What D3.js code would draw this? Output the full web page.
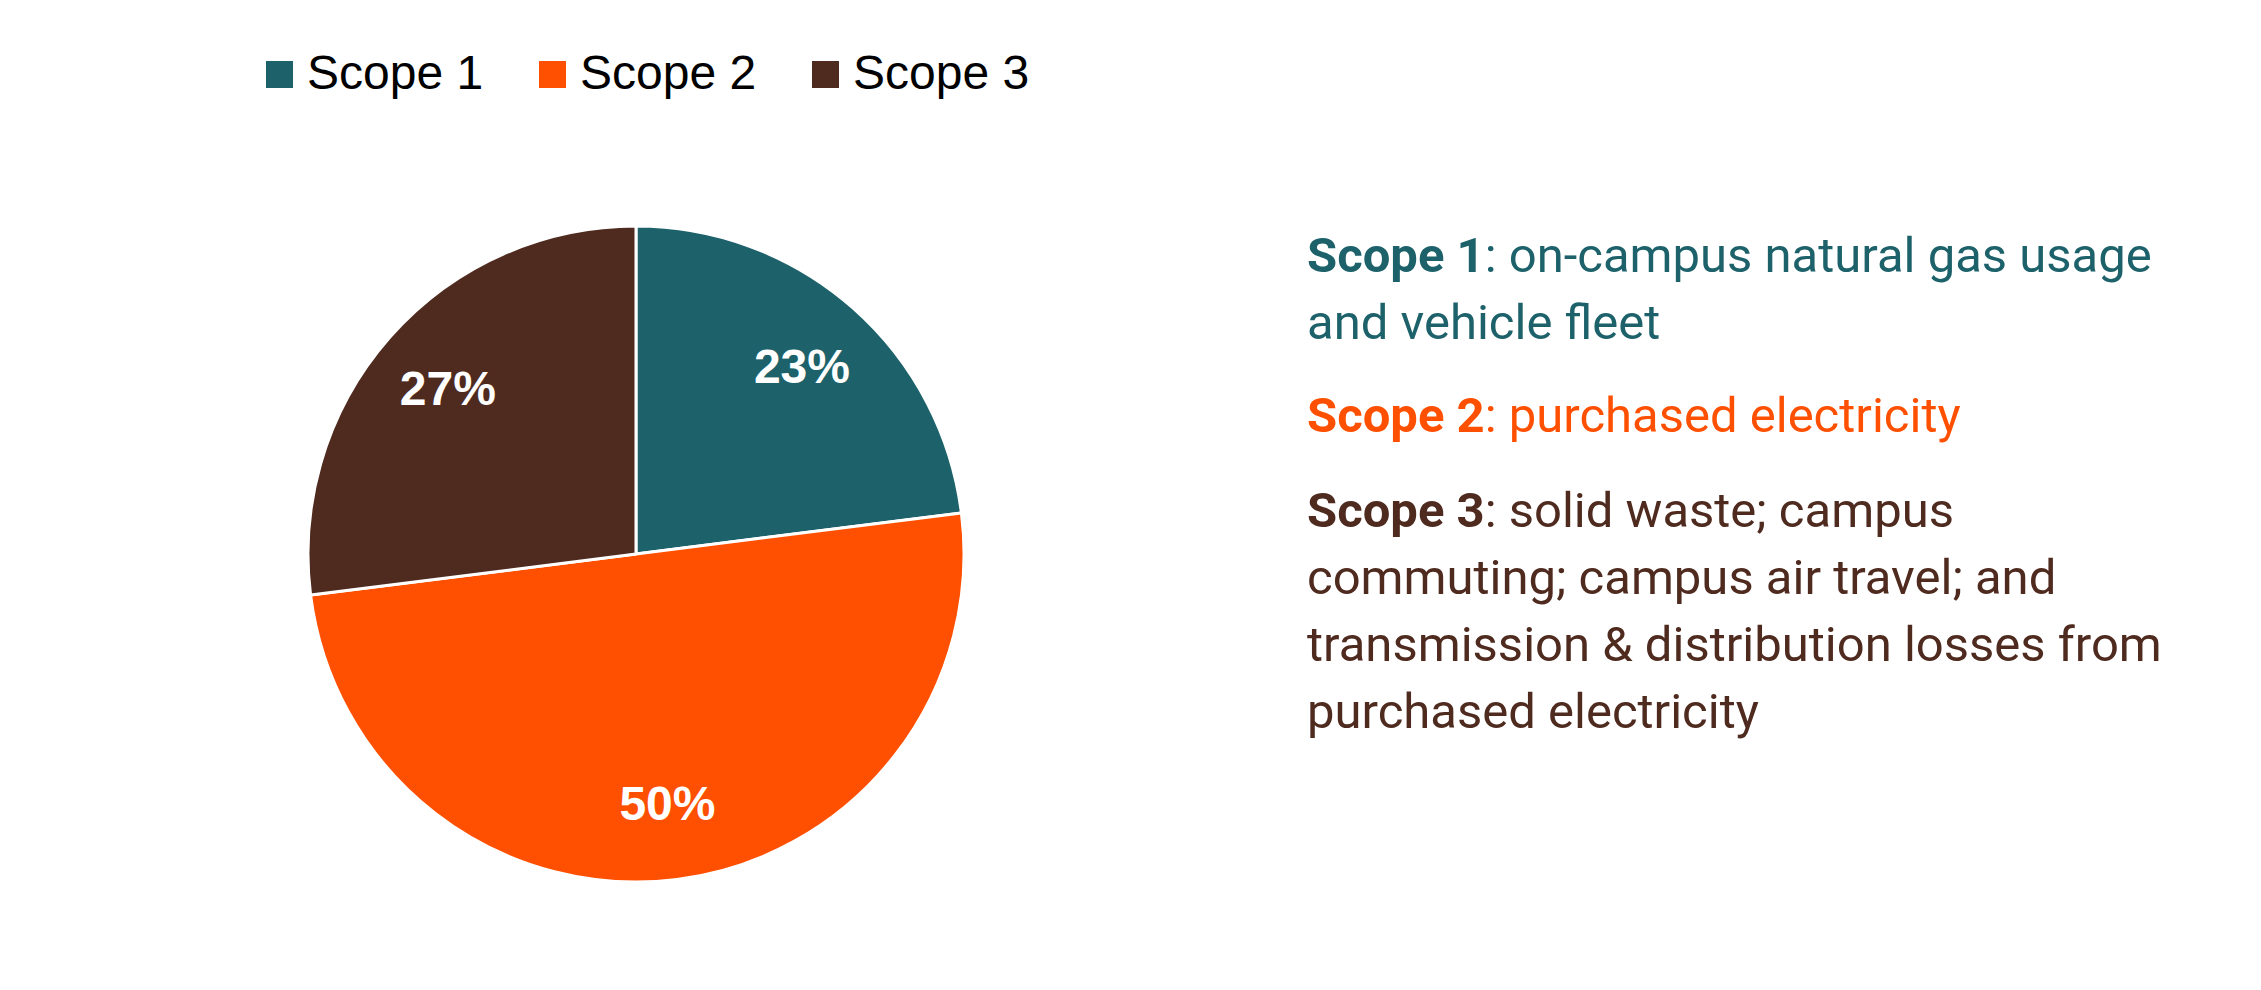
<!DOCTYPE html>
<html>
<head>
<meta charset="utf-8">
<script src="https://cdn.jsdelivr.net/npm/d3@7/dist/d3.min.js"></script>
<style>
  html, body { margin: 0; padding: 0; background: #ffffff; }
  svg { display: block; }
</style>
</head>
<body>
<svg id="chart" width="2261" height="990"></svg>
<script>
// ---- data ----
const categories = ["Scope 1", "Scope 2", "Scope 3"];
const values = [23, 50, 27];
const labels = ["23%", "50%", "27%"];
const descTitles = ["Scope 1", "Scope 2", "Scope 3"];
const descLines = [
  ["on-campus natural gas usage", "and vehicle fleet"],
  ["purchased electricity"],
  ["solid waste; campus", "commuting; campus air travel; and", "transmission & distribution losses from", "purchased electricity"]
];

// ---- styles ----
const palette = ["#1D626A", "#FE5000", "#4F2B1F"];
const textPalette = ["#1D626A", "#FE5000", "#4F2B1F"];

const svg = d3.select("#chart");

const cx = 636, cy = 554, R = 328;

const color = d3.scaleOrdinal().domain(categories).range(palette);
const textColor = d3.scaleOrdinal().domain(categories).range(textPalette);

const pie = d3.pie().sort(null).value(d => d.value).startAngle(0).endAngle(2 * Math.PI);
const data = categories.map((c, i) => ({ cat: c, value: values[i], label: labels[i] }));
const arcs = pie(data);

const arc = d3.arc().innerRadius(0).outerRadius(R);
const labelArc = d3.arc().innerRadius(R * 0.765).outerRadius(R * 0.765);

const g = svg.append("g").attr("transform", `translate(${cx},${cy})`);

g.selectAll("path.slice")
  .data(arcs)
  .join("path")
  .attr("class", "slice")
  .attr("d", arc)
  .attr("fill", d => color(d.data.cat))
  .attr("stroke", "#ffffff")
  .attr("stroke-width", 3)
  .attr("stroke-linejoin", "round");

g.selectAll("text.lbl")
  .data(arcs)
  .join("text")
  .attr("class", "lbl")
  .attr("transform", d => `translate(${labelArc.centroid(d)})`)
  .attr("text-anchor", "middle")
  .attr("dy", "0.36em")
  .attr("fill", "#ffffff")
  .style("font-family", "'Liberation Sans', Arial, sans-serif")
  .style("font-weight", "bold")
  .style("font-size", "48px")
  .text(d => d.data.label);

// ---- legend ----
const legendX = d3.scalePoint().domain(categories).range([266, 812]);
const lg = svg.append("g");
const item = lg.selectAll("g.item")
  .data(categories)
  .join("g")
  .attr("class", "item")
  .attr("transform", d => `translate(${legendX(d)},0)`);
item.append("rect")
  .attr("x", 0).attr("y", 61)
  .attr("width", 27).attr("height", 27)
  .attr("fill", d => color(d));
item.append("text")
  .attr("x", 41).attr("y", 89)
  .attr("fill", "#000000")
  .style("font-family", "'Liberation Sans', Arial, sans-serif")
  .style("font-size", "48px")
  .text(d => d);

// ---- description text ----
const descX = 1307;
const lineH = 67;
const blockStarts = [272, 432, 527];
const dg = svg.append("g")
  .style("font-family", "Roboto, 'Noto Sans', sans-serif")
  .style("font-size", "49px");

categories.forEach((c, i) => {
  descLines[i].forEach((line, j) => {
    const t = dg.append("text")
      .attr("x", descX)
      .attr("y", blockStarts[i] + j * lineH)
      .attr("fill", textColor(c));
    if (j === 0) {
      t.append("tspan").style("font-weight", "bold").text(descTitles[i]);
      t.append("tspan").text(": " + line);
    } else {
      t.text(line);
    }
  });
});
</script>
</body>
</html>
